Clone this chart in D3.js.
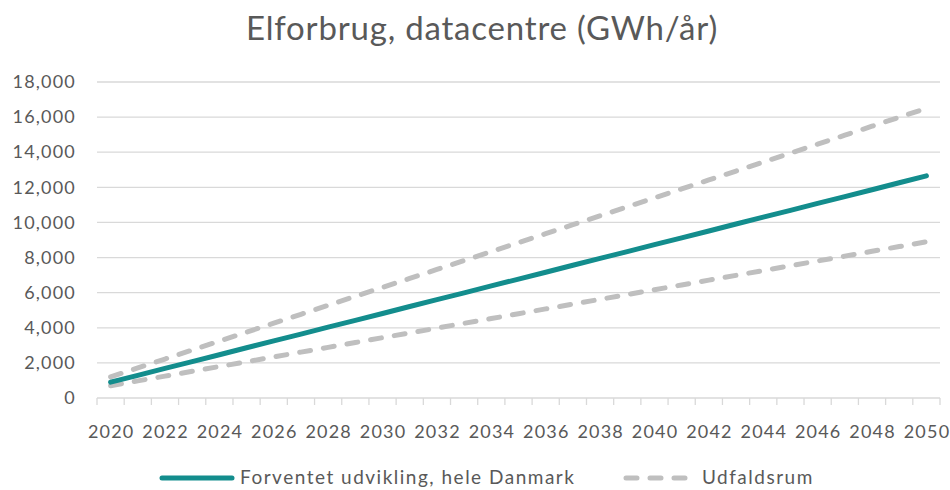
<!DOCTYPE html>
<html>
<head>
<meta charset="utf-8">
<script src="https://cdn.jsdelivr.net/npm/d3@7"></script>
<style>
  body { margin: 0; background: #fff; }
  text { font-family: Lato, "Open Sans", sans-serif; fill: #595959; }
</style>
</head>
<body>
<div id="chart"></div>
<script>
// categories
const years = [2020, 2021, 2022, 2023, 2024, 2025, 2026, 2027, 2028, 2029, 2030,
    2031, 2032, 2033, 2034, 2035, 2036, 2037, 2038, 2039, 2040,
    2041, 2042, 2043, 2044, 2045, 2046, 2047, 2048, 2049, 2050];

// expected development, whole Denmark (GWh/yr)
const expected = [900, 1290, 1685, 2075, 2465, 2860, 3250, 3640, 4035, 4425, 4815,
    5210, 5600, 5990, 6385, 6775, 7165, 7560, 7950, 8340, 8735,
    9125, 9515, 9910, 10300, 10690, 11085, 11475, 11865, 12260, 12650];

// outcome range: upper and lower bound
const upper = [1200, 1710, 2220, 2730, 3240, 3750, 4260, 4770, 5280, 5790, 6300,
    6810, 7320, 7830, 8340, 8850, 9360, 9870, 10380, 10890, 11400,
    11910, 12420, 12930, 13440, 13950, 14460, 14970, 15480, 15990, 16500];
const lower = [700, 975, 1245, 1520, 1795, 2065, 2340, 2615, 2885, 3160, 3435,
    3705, 3980, 4255, 4525, 4800, 5075, 5345, 5620, 5895, 6165,
    6440, 6715, 6985, 7260, 7535, 7805, 8080, 8355, 8625, 8900];

const yTicks = [0, 2000, 4000, 6000, 8000, 10000, 12000, 14000, 16000, 18000];
const xLabels = years.filter((d, i) => i % 2 === 0);

const title = "Elforbrug, datacentre (GWh/år)";
const seriesNames = ["Forventet udvikling, hele Danmark", "Udfaldsrum"];

const teal = "#138d8d";
const gray = "#bfbfbf";
const gridColor = "#d9d9d9";

const width = 950, height = 490;
const margin = {top: 82, right: 10, bottom: 92, left: 97};
const innerW = width - margin.left - margin.right;
const innerH = height - margin.top - margin.bottom;

const svg = d3.select("#chart").append("svg")
    .attr("width", width)
    .attr("height", height);

// title
svg.append("text")
    .attr("x", 482)
    .attr("y", 40)
    .attr("text-anchor", "middle")
    .style("font-size", "33px")
    .style("letter-spacing", "0.8px")
    .text(title);

const g = svg.append("g")
    .attr("transform", "translate(" + margin.left + "," + margin.top + ")");

// scales
const x = d3.scaleBand()
    .domain(years)
    .range([0, innerW]);

const y = d3.scaleLinear()
    .domain([0, 18000])
    .range([innerH, 0]);

// gridlines
g.selectAll(".grid")
    .data(yTicks.filter(d => d > 0))
    .enter().append("line")
    .attr("class", "grid")
    .attr("x1", 0)
    .attr("x2", innerW)
    .attr("y1", d => y(d))
    .attr("y2", d => y(d))
    .attr("stroke", gridColor)
    .attr("stroke-width", 1.3);

// y axis labels
const yAxis = d3.axisLeft(y)
    .tickValues(yTicks)
    .tickSize(0)
    .tickPadding(21)
    .tickFormat(d3.format(","));

g.append("g")
    .attr("class", "y-axis")
    .call(yAxis)
    .call(a => a.select(".domain").remove())
    .selectAll("text")
    .style("font-size", "18px")
    .style("letter-spacing", "1.2px");

// x axis: ticks on category boundaries, labels every other year
g.append("line")
    .attr("x1", 0).attr("x2", innerW)
    .attr("y1", innerH).attr("y2", innerH)
    .attr("stroke", gridColor)
    .attr("stroke-width", 1.3);

const boundaries = years.map(d => x(d)).concat([innerW]);
g.selectAll(".xtick")
    .data(boundaries)
    .enter().append("line")
    .attr("class", "xtick")
    .attr("x1", d => d).attr("x2", d => d)
    .attr("y1", innerH).attr("y2", innerH + 7)
    .attr("stroke", gridColor)
    .attr("stroke-width", 1.3);

g.selectAll(".xlabel")
    .data(xLabels)
    .enter().append("text")
    .attr("class", "xlabel")
    .attr("x", d => x(d) + x.bandwidth() / 2 + 0.6)
    .attr("y", innerH + 40)
    .attr("text-anchor", "middle")
    .style("font-size", "18px")
    .style("letter-spacing", "1.2px")
    .text(d => d);

// lines
const line = d3.line()
    .x((d, i) => x(years[i]) + x.bandwidth() / 2)
    .y(d => y(d));

[upper, lower].forEach(s => {
    g.append("path")
        .datum(s)
        .attr("fill", "none")
        .attr("stroke", gray)
        .attr("stroke-width", 5)
        .attr("stroke-linecap", "round")
        .attr("stroke-dasharray", "11,13")
        .attr("d", line);
});

g.append("path")
    .datum(expected)
    .attr("fill", "none")
    .attr("stroke", teal)
    .attr("stroke-width", 5)
    .attr("stroke-linecap", "round")
    .attr("d", line);

// legend (kept just inside the bottom edge)
const legendY = 478;
const legend = svg.append("g").attr("class", "legend");
legend.append("line")
    .attr("x1", 162).attr("x2", 232)
    .attr("y1", legendY).attr("y2", legendY)
    .attr("stroke", teal)
    .attr("stroke-width", 5)
    .attr("stroke-linecap", "round");
legend.append("text")
    .attr("x", 240).attr("y", legendY + 6)
    .style("font-size", "19px")
    .style("letter-spacing", "1.5px")
    .text(seriesNames[0]);

legend.append("line")
    .attr("x1", 626).attr("x2", 686)
    .attr("y1", legendY).attr("y2", legendY)
    .attr("stroke", gray)
    .attr("stroke-width", 5)
    .attr("stroke-linecap", "round")
    .attr("stroke-dasharray", "11,13");
legend.append("text")
    .attr("x", 702).attr("y", legendY + 6)
    .style("font-size", "19px")
    .style("letter-spacing", "1.5px")
    .text(seriesNames[1]);
</script>
</body>
</html>
